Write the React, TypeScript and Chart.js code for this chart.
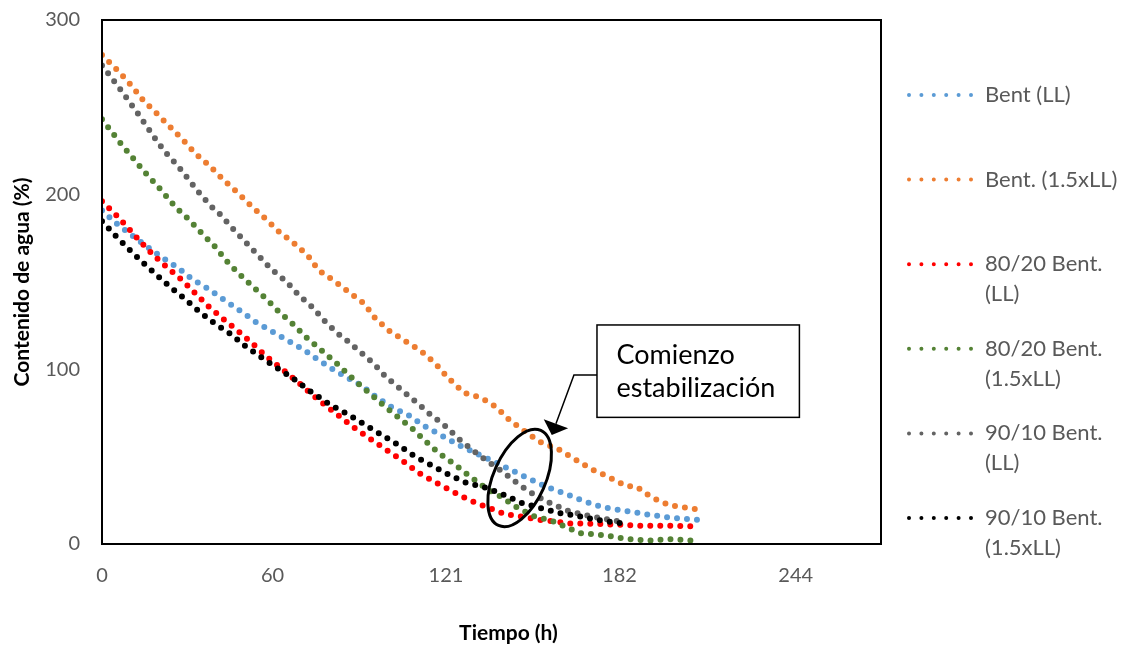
import React, { useEffect, useRef } from 'react';
import { Chart, registerables } from 'chart.js';

Chart.register(...registerables);

const FONT = 'Lato, "Liberation Sans", sans-serif';

// ---- axes ----
const X_TICKS = [0, 60, 121, 182, 244];
const X_TICK_LABELS = ['0', '60', '121', '182', '244'];
const X_MIN = 0;
const X_MAX = 274;
const Y_MIN = 0;
const Y_MAX = 300;
const Y_STEP = 100;
const X_TITLE = 'Tiempo (h)';
const Y_TITLE = 'Contenido de agua (%)';

// ---- series ----
const SERIES_NAMES = [
  'Bent (LL)',
  'Bent. (1.5xLL)',
  '80/20 Bent.\n(LL)',
  '80/20 Bent.\n(1.5xLL)',
  '90/10 Bent.\n(LL)',
  '90/10 Bent.\n(1.5xLL)',
];
const SERIES_COLORS = ['#5B9BD5', '#ED7D31', '#FF0000', '#548235', '#636363', '#000000'];

const bentLL_t = [0, 5.0, 10.1, 15.6, 21.2, 26.6, 31.9, 37.7, 42.9, 48.8, 54.2, 59.8, 65.9, 71.2, 76.4, 82.3, 91.1, 96.4, 101.7, 107.8, 114.0, 119.9, 125.8, 132.2, 138.1, 144.0, 150.1, 156.3, 162.7, 169.4, 176.2, 183.8, 191.5, 198.9, 206.7, 210.9];
const bentLL_w = [190.9, 183.6, 177.3, 170.5, 164.0, 158.3, 151.4, 145.7, 139.8, 133.3, 127.0, 121.7, 116.0, 110.9, 105.0, 98.9, 90.9, 84.2, 78.5, 73.7, 67.0, 61.7, 56.4, 51.4, 47.0, 42.3, 37.5, 32.7, 29.0, 24.6, 21.0, 19.0, 17.0, 15.3, 14.1, 13.7];

const bent15_t = [0, 6.0, 10.5, 14.6, 19.5, 24.0, 28.7, 33.0, 38.0, 42.7, 47.8, 52.6, 57.7, 62.4, 67.4, 72.3, 76.2, 81.7, 87.0, 92.2, 96.2, 101.1, 106.8, 112.2, 117.3, 121.6, 127.3, 133.4, 138.6, 143.7, 149.0, 154.1, 160.7, 166.3, 172.1, 178.0, 184.3, 188.0, 193.3, 199.7, 206.5, 210.5];
const bent15_w = [280, 270.3, 262.2, 253.8, 246.1, 238.7, 231.0, 223.3, 216.3, 208.5, 201.0, 193.4, 185.9, 178.6, 172.4, 165.3, 156.7, 150.6, 144.0, 137.6, 129.0, 122.0, 116.0, 110.5, 103.3, 95.3, 86.6, 83.7, 78.5, 70.4, 64.2, 58.5, 54.1, 48.6, 42.9, 38.5, 33.3, 32.8, 26.7, 22.1, 20.6, 19.4];

const b8020LL_t = [0, 5.0, 9.5, 13.9, 18.6, 23.3, 28.3, 33.0, 37.7, 42.7, 47.9, 52.8, 57.8, 63.1, 68.2, 74.3, 81.1, 86.4, 89.1, 94.7, 100.2, 105.8, 111.4, 117.3, 122.8, 128.7, 135.1, 141.8, 147.8, 152.7, 156.9, 164.2, 168.6, 176.2, 189.2, 197.4, 205.6, 210.2];
const b8020LL_w = [196.2, 188.2, 180.4, 172.4, 164.6, 157.7, 150.9, 143.2, 135.6, 128.7, 121.9, 115.0, 107.4, 100.4, 93.7, 85.0, 76.2, 69.5, 66.1, 59.8, 53.7, 47.6, 40.7, 35.3, 30.5, 25.5, 21.3, 17.1, 15.6, 14.1, 13.3, 11.8, 11.8, 11.4, 10.5, 10.5, 10.3, 9.9];

const b802015_t = [0, 6.3, 10.6, 14.9, 19.5, 25.9, 30.6, 35.1, 39.6, 43.8, 48.0, 53.0, 57.7, 62.4, 67.3, 72.0, 76.9, 82.0, 86.4, 89.1, 94.0, 98.7, 104.0, 109.1, 114.0, 118.7, 124.4, 129.2, 135.1, 140.7, 145.9, 151.8, 158.1, 164.2, 168.6, 176.2, 184.5, 192.5, 200.9, 208.5];
const b802015_w = [243.2, 229.9, 221.5, 213.1, 205.0, 192.8, 185.7, 177.9, 170.5, 162.1, 155.0, 147.4, 140.4, 132.7, 125.7, 118.1, 111.3, 104.2, 97.5, 93.3, 86.5, 79.8, 72.8, 66.1, 58.5, 51.8, 45.1, 38.9, 31.8, 26.7, 21.0, 16.0, 13.3, 9.0, 6.1, 5.1, 2.9, 1.9, 2.9, 1.7];

const b9010LL_t = [0, 6.3, 12.4, 18.1, 21.9, 26.6, 30.8, 34.8, 39.1, 41.5, 45.9, 50.6, 55.1, 59.6, 64.8, 69.1, 74.1, 78.5, 83.0, 85.6, 90.5, 95.6, 99.9, 105.2, 110.3, 115.1, 120.4, 125.5, 130.7, 135.1, 141.0, 146.6, 151.8, 157.4, 163.9, 170.4, 177.0, 184.5];
const b9010LL_w = [274, 260.6, 247.0, 233.5, 225.0, 216.6, 208.0, 199.8, 192.2, 188.8, 180.8, 172.7, 165.0, 157.3, 150.3, 142.7, 135.4, 127.4, 120.4, 117.3, 110.5, 103.2, 95.6, 88.4, 81.5, 74.7, 68.0, 60.2, 53.3, 48.0, 41.3, 34.1, 28.4, 23.6, 19.0, 16.4, 14.3, 12.2];

const b901015_t = [0, 4.8, 9.6, 14.6, 19.3, 24.3, 29.2, 34.5, 39.8, 45.3, 50.4, 55.9, 61.4, 66.8, 73.6, 80.6, 86.4, 92.3, 97.9, 103.8, 110.3, 116.4, 122.3, 128.1, 134.6, 141.0, 147.5, 154.5, 161.6, 165.7, 173.3, 181.0, 184.5];
const b901015_w = [184.8, 176.4, 168.6, 160.8, 153.9, 146.7, 140.2, 132.7, 126.1, 120.2, 113.3, 107.0, 101.0, 95.3, 87.0, 79.4, 74.3, 68.5, 62.9, 57.1, 49.9, 44.6, 39.4, 35.0, 32.4, 28.4, 23.6, 20.4, 17.5, 16.6, 14.1, 12.2, 11.4];

const SERIES_T = [bentLL_t, bent15_t, b8020LL_t, b802015_t, b9010LL_t, b901015_t];
const SERIES_W = [bentLL_w, bent15_w, b8020LL_w, b802015_w, b9010LL_w, b901015_w];

// ---- annotation (data coordinates) ----
const ANNOT_TEXT = ['Comienzo', 'estabilización'];
const ANNOT_BOX = { t0: 174.1, v0: 125.4, t1: 245.3, v1: 72.5 };
const ANNOT_ELBOW = { t: 166.0, v: 96.7 };
const ANNOT_TIP = { t: 158.2, v: 62.4 };
const ANNOT_ELLIPSE = { t: 146.9, v: 37.8 };

const framePlugin = {
  id: 'frame',
  beforeDraw(chart: any) {
    const { ctx } = chart;
    ctx.save();
    ctx.fillStyle = '#ffffff';
    ctx.fillRect(0, 0, chart.width, chart.height);
    ctx.restore();
  },
  afterDatasetsDraw(chart: any) {
    const { ctx, chartArea: a } = chart;
    ctx.save();
    ctx.strokeStyle = '#000000';
    ctx.lineWidth = 2;
    ctx.strokeRect(a.left, a.top, a.right - a.left, a.bottom - a.top);
    ctx.restore();
  },
};

const titlesPlugin = {
  id: 'titles',
  afterDraw(chart: any) {
    const { ctx, chartArea: a } = chart;
    ctx.save();
    ctx.fillStyle = '#000000';
    ctx.font = `bold 21px ${FONT}`;
    ctx.textAlign = 'center';
    ctx.textBaseline = 'middle';
    ctx.fillText(X_TITLE, (a.left + a.right) / 2 + 17, 633);
    ctx.translate(22, (a.top + a.bottom) / 2);
    ctx.rotate(-Math.PI / 2);
    ctx.fillText(Y_TITLE, 0, 0);
    ctx.restore();
  },
};

const legendPlugin = {
  id: 'customLegend',
  afterDraw(chart: any) {
    const { ctx } = chart;
    ctx.save();
    SERIES_NAMES.forEach((name, i) => {
      const y = 95 + i * 84.6;
      ctx.strokeStyle = SERIES_COLORS[i];
      ctx.lineWidth = 4;
      ctx.lineCap = 'round';
      ctx.setLineDash([0, 12.4]);
      ctx.beginPath();
      ctx.moveTo(909, y);
      ctx.lineTo(972, y);
      ctx.stroke();
      ctx.setLineDash([]);
      ctx.fillStyle = '#595959';
      ctx.font = `22px ${FONT}`;
      ctx.textAlign = 'left';
      ctx.textBaseline = 'middle';
      name.split('\n').forEach((line, j) => {
        ctx.fillText(line, 985, y + j * 30);
      });
    });
    ctx.restore();
  },
};

const annotationPlugin = {
  id: 'annotation',
  afterDraw(chart: any) {
    const { ctx } = chart;
    const xs = chart.scales.x;
    const ys = chart.scales.y;
    const px = (t: number) => xs.getPixelForValue(t);
    const py = (v: number) => ys.getPixelForValue(v);
    ctx.save();
    // ellipse
    ctx.strokeStyle = '#000000';
    ctx.lineWidth = 3;
    ctx.beginPath();
    ctx.ellipse(px(ANNOT_ELLIPSE.t), py(ANNOT_ELLIPSE.v), 52, 26, (-66 * Math.PI) / 180, 0, Math.PI * 2);
    ctx.stroke();
    // box
    const bx0 = px(ANNOT_BOX.t0);
    const by0 = py(ANNOT_BOX.v0);
    const bx1 = px(ANNOT_BOX.t1);
    const by1 = py(ANNOT_BOX.v1);
    ctx.fillStyle = '#ffffff';
    ctx.fillRect(bx0, by0, bx1 - bx0, by1 - by0);
    ctx.lineWidth = 1.5;
    ctx.strokeRect(bx0, by0, bx1 - bx0, by1 - by0);
    ctx.fillStyle = '#000000';
    ctx.font = `27px ${FONT}`;
    ctx.textAlign = 'left';
    ctx.textBaseline = 'middle';
    ANNOT_TEXT.forEach((line, j) => ctx.fillText(line, bx0 + 19.5, by0 + 30 + j * 33.5));
    // connector
    const ex = px(ANNOT_ELBOW.t);
    const ey = py(ANNOT_ELBOW.v);
    const tx = px(ANNOT_TIP.t);
    const ty = py(ANNOT_TIP.v);
    const dx = tx - ex;
    const dy = ty - ey;
    const len = Math.hypot(dx, dy);
    const ux = dx / len;
    const uy = dy / len;
    const baseX = tx - ux * 12;
    const baseY = ty - uy * 12;
    ctx.lineWidth = 1.5;
    ctx.beginPath();
    ctx.moveTo(bx0, ey);
    ctx.lineTo(ex, ey);
    ctx.lineTo(baseX, baseY);
    ctx.stroke();
    ctx.beginPath();
    ctx.moveTo(tx, ty);
    ctx.lineTo(baseX - uy * 13, baseY + ux * 13);
    ctx.lineTo(baseX + uy * 13, baseY - ux * 13);
    ctx.closePath();
    ctx.fill();
    ctx.restore();
  },
};

export default function App() {
  const ref = useRef<HTMLCanvasElement>(null);
  useEffect(() => {
    document.body.style.margin = '0';
    const canvas = ref.current!;
    const datasets = SERIES_NAMES.map((name, i) => ({
      label: name.replace('\n', ' '),
      data: SERIES_T[i].map((t, k) => ({ x: t, y: SERIES_W[i][k] })),
      borderColor: SERIES_COLORS[i],
      backgroundColor: SERIES_COLORS[i],
      borderWidth: 6,
      borderDash: [0, 10],
      borderCapStyle: 'round' as const,
      borderJoinStyle: 'round' as const,
      pointRadius: 0,
      showLine: true,
      tension: 0,
      order: SERIES_NAMES.length - i,
    }));
    const chart = new Chart(canvas, {
      type: 'scatter',
      data: { datasets },
      options: {
        responsive: false,
        animation: false,
        devicePixelRatio: 1,
        layout: { padding: { left: 0, top: 20, right: 242, bottom: 0 } },
        plugins: { legend: { display: false }, tooltip: { enabled: false } },
        scales: {
          x: {
            type: 'linear',
            min: X_MIN,
            max: X_MAX,
            grid: { display: false, drawTicks: false },
            border: { display: false },
            afterBuildTicks: (scale: any) => {
              scale.ticks = X_TICKS.map((v) => ({ value: v }));
            },
            afterFit: (scale: any) => {
              scale.height = 104;
              scale.paddingLeft = 0;
              scale.paddingRight = 0;
            },
            ticks: {
              autoSkip: false,
              maxRotation: 0,
              padding: 20,
              color: '#595959',
              font: { family: FONT, size: 20 },
              callback: (value: any) => {
                const idx = X_TICKS.indexOf(Number(value));
                return idx >= 0 ? X_TICK_LABELS[idx] : '';
              },
            },
          },
          y: {
            type: 'linear',
            min: Y_MIN,
            max: Y_MAX,
            grid: { display: false, drawTicks: false },
            border: { display: false },
            afterFit: (scale: any) => {
              scale.width = 102;
              scale.paddingTop = 0;
              scale.paddingBottom = 0;
            },
            ticks: {
              stepSize: Y_STEP,
              padding: 22,
              color: '#595959',
              font: { family: FONT, size: 20 },
            },
          },
        },
      },
      plugins: [framePlugin, titlesPlugin, legendPlugin, annotationPlugin],
    });
    return () => chart.destroy();
  }, []);
  return (
    <div style={{ width: 1123, height: 648 }}>
      <canvas ref={ref} width={1123} height={648} style={{ display: 'block' }} />
    </div>
  );
}
